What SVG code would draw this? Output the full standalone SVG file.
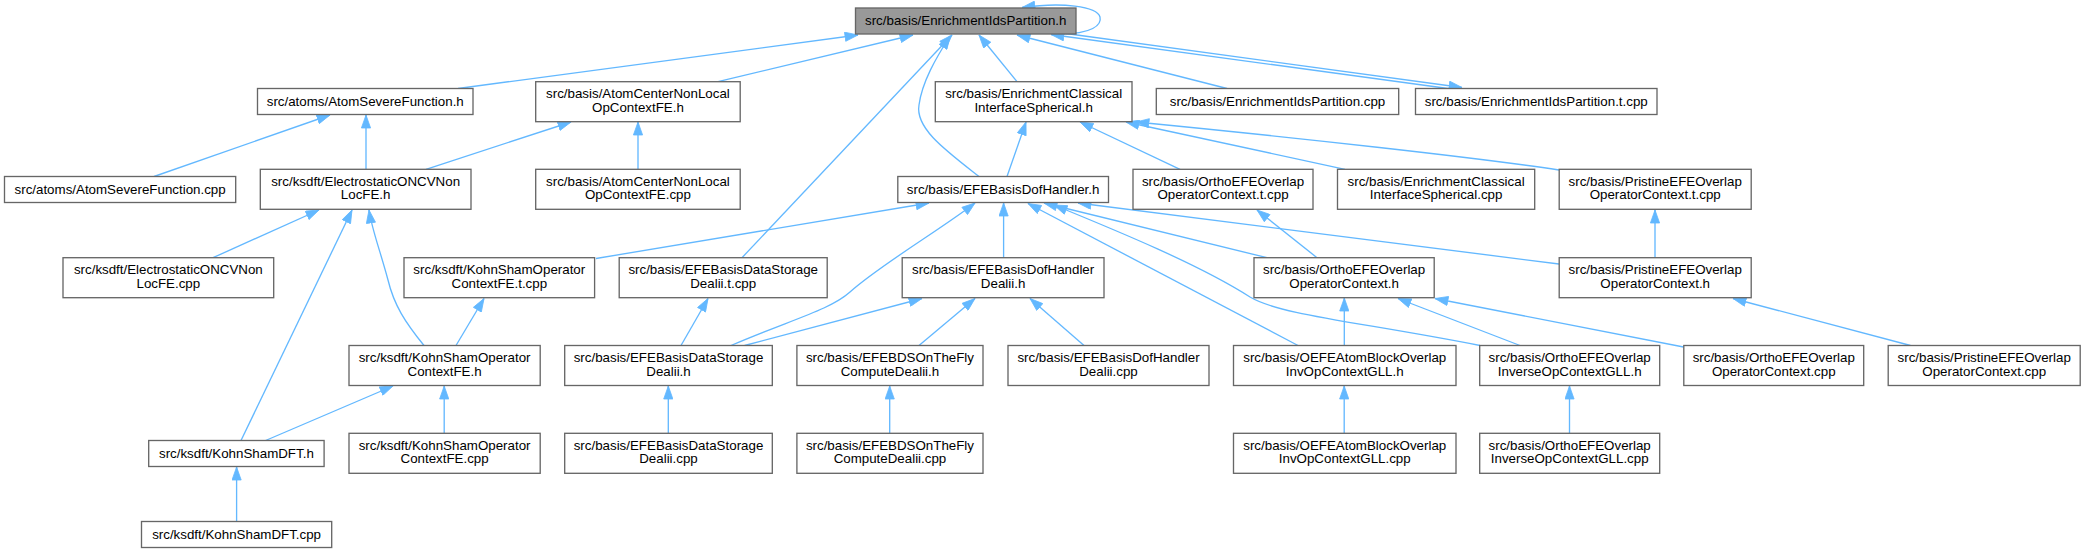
<svg xmlns="http://www.w3.org/2000/svg" width="2086" height="552" viewBox="0 0 2086 552">
<defs>
<marker id="ah" markerUnits="userSpaceOnUse" markerWidth="14" markerHeight="10" viewBox="0 0 13 10" refX="13" refY="5" orient="auto">
<path d="M0,0.4 L13,5 L0,9.6 z" fill="#63b8ff" stroke="#63b8ff" stroke-width="0.8"/>
</marker>
<style>
.n rect{fill:#fff;stroke:#666;stroke-width:1.33}
.n.root rect{fill:#999}
.n text{font-family:"Liberation Sans",Arial,sans-serif;font-size:13.33px;fill:#000;text-anchor:middle}
.e path{fill:none;stroke:#63b8ff;stroke-width:1.33;marker-end:url(#ah)}
</style>
</defs>
<rect width="2086" height="552" fill="#fff"/>
<g class="e" id="edges">
<path d="M458,88.5 L858,35"/>
<path d="M718,81.7 L913,35"/>
<path d="M742,257.7 L952,35"/>
<path d="M979,176.5 C945,150 915,128 919,105 C922,82 936,58 950,36"/>
<path d="M1017,81.7 L979,35"/>
<path d="M1227,88.5 L1017,35"/>
<path d="M1448,88.5 L1051,34.5"/>
<path d="M1066,33.5 L1462,87.5"/>
<path d="M1060,34 C1092,34 1102,25 1100,17 C1097,6 1062,2 1022,7.5"/>
<path d="M154,176.5 L330,115"/>
<path d="M366,169.3 L366,115"/>
<path d="M426,169.3 L571,122"/>
<path d="M638,169.3 L638,122"/>
<path d="M1007,176.5 L1026,122"/>
<path d="M1180,169.3 L1080,122"/>
<path d="M1345,169.3 L1126,122"/>
<path d="M1559,170 C1480,158 1300,138 1136,122"/>
<path d="M213,257.7 L319,210"/>
<path d="M241,440.5 L352,210"/>
<path d="M424,345.5 C405,322 394,305 388,280 C380,250 372,230 369,210"/>
<path d="M596,258.5 L929,203"/>
<path d="M731,345.5 C790,320 830,310 850,292 C880,265 940,230 975,203"/>
<path d="M1003.6,257.7 L1003.6,203"/>
<path d="M1298,345.5 L1028,203.5"/>
<path d="M1267,257.7 L1044,203"/>
<path d="M1480,345.5 C1360,322 1280,315 1250,297 C1200,265 1120,232 1054,205"/>
<path d="M1559,264 L1078,203"/>
<path d="M1317,257.7 L1257,210"/>
<path d="M1655,257.7 L1655,210"/>
<path d="M456,345.5 L484,298.5"/>
<path d="M681,345.5 L708,298.5"/>
<path d="M744.6,345.5 L922,298.5"/>
<path d="M919,345.5 L975,298.5"/>
<path d="M1084,345.5 L1030,298.5"/>
<path d="M1344.3,345.5 L1344.3,298"/>
<path d="M1520,345.5 L1398,298.5"/>
<path d="M1683.5,347 L1435,298.5"/>
<path d="M1910.5,345.5 L1733,298.5"/>
<path d="M265.6,440.5 L393,386"/>
<path d="M444.2,433.3 L444.2,386"/>
<path d="M668.3,433.3 L668.3,386"/>
<path d="M889.7,433.3 L889.7,386"/>
<path d="M1344.2,433.3 L1344.2,386"/>
<path d="M1569.5,433.3 L1569.5,386"/>
<path d="M236.6,521.5 L236.6,467"/>
</g>
<g class="n root" id="n0"><rect x="855.5" y="8" width="220.5" height="26"/><text x="965.75" y="25">src/basis/EnrichmentIdsPartition.h</text></g>
<g class="n" id="n1"><rect x="257.5" y="88.5" width="215.5" height="26"/><text x="365.25" y="105.5">src/atoms/AtomSevereFunction.h</text></g>
<g class="n" id="n2"><rect x="535.7" y="81.7" width="204.5" height="40"/><text x="637.95" y="98.4">src/basis/AtomCenterNonLocal</text><text x="637.95" y="111.7">OpContextFE.h</text></g>
<g class="n" id="n3"><rect x="935.3" y="81.7" width="196.7" height="40"/><text x="1033.65" y="98.4">src/basis/EnrichmentClassical</text><text x="1033.65" y="111.7">InterfaceSpherical.h</text></g>
<g class="n" id="n4"><rect x="1156.3" y="88.5" width="242.4" height="26"/><text x="1277.5" y="105.5">src/basis/EnrichmentIdsPartition.cpp</text></g>
<g class="n" id="n5"><rect x="1415.5" y="88.5" width="241.5" height="26"/><text x="1536.25" y="105.5">src/basis/EnrichmentIdsPartition.t.cpp</text></g>
<g class="n" id="n6"><rect x="4.5" y="176.5" width="231.2" height="26"/><text x="120.1" y="193.5">src/atoms/AtomSevereFunction.cpp</text></g>
<g class="n" id="n7"><rect x="260.3" y="169.3" width="210.7" height="40"/><text x="365.65" y="186">src/ksdft/ElectrostaticONCVNon</text><text x="365.65" y="199.3">LocFE.h</text></g>
<g class="n" id="n8"><rect x="535.7" y="169.3" width="204.5" height="40"/><text x="637.95" y="186">src/basis/AtomCenterNonLocal</text><text x="637.95" y="199.3">OpContextFE.cpp</text></g>
<g class="n" id="n9"><rect x="897.8" y="176.5" width="210.7" height="26"/><text x="1003.15" y="193.5">src/basis/EFEBasisDofHandler.h</text></g>
<g class="n" id="n10"><rect x="1133" y="169.3" width="180" height="40"/><text x="1223" y="186">src/basis/OrthoEFEOverlap</text><text x="1223" y="199.3">OperatorContext.t.cpp</text></g>
<g class="n" id="n11"><rect x="1337.5" y="169.3" width="197.2" height="40"/><text x="1436.1" y="186">src/basis/EnrichmentClassical</text><text x="1436.1" y="199.3">InterfaceSpherical.cpp</text></g>
<g class="n" id="n12"><rect x="1559.2" y="169.3" width="192" height="40"/><text x="1655.2" y="186">src/basis/PristineEFEOverlap</text><text x="1655.2" y="199.3">OperatorContext.t.cpp</text></g>
<g class="n" id="n13"><rect x="63" y="257.7" width="210.7" height="40"/><text x="168.35" y="274.4">src/ksdft/ElectrostaticONCVNon</text><text x="168.35" y="287.7">LocFE.cpp</text></g>
<g class="n" id="n14"><rect x="404" y="257.7" width="190.6" height="40"/><text x="499.3" y="274.4">src/ksdft/KohnShamOperator</text><text x="499.3" y="287.7">ContextFE.t.cpp</text></g>
<g class="n" id="n15"><rect x="619.2" y="257.7" width="208" height="40"/><text x="723.2" y="274.4">src/basis/EFEBasisDataStorage</text><text x="723.2" y="287.7">Dealii.t.cpp</text></g>
<g class="n" id="n16"><rect x="902.2" y="257.7" width="201.8" height="40"/><text x="1003.1" y="274.4">src/basis/EFEBasisDofHandler</text><text x="1003.1" y="287.7">Dealii.h</text></g>
<g class="n" id="n17"><rect x="1254" y="257.7" width="180.2" height="40"/><text x="1344.1" y="274.4">src/basis/OrthoEFEOverlap</text><text x="1344.1" y="287.7">OperatorContext.h</text></g>
<g class="n" id="n18"><rect x="1559.2" y="257.7" width="192" height="40"/><text x="1655.2" y="274.4">src/basis/PristineEFEOverlap</text><text x="1655.2" y="287.7">OperatorContext.h</text></g>
<g class="n" id="n19"><rect x="349" y="345.5" width="191.2" height="40"/><text x="444.6" y="362.2">src/ksdft/KohnShamOperator</text><text x="444.6" y="375.5">ContextFE.h</text></g>
<g class="n" id="n20"><rect x="564.7" y="345.5" width="207.6" height="40"/><text x="668.5" y="362.2">src/basis/EFEBasisDataStorage</text><text x="668.5" y="375.5">Dealii.h</text></g>
<g class="n" id="n21"><rect x="796.9" y="345.5" width="186.1" height="40"/><text x="889.95" y="362.2">src/basis/EFEBDSOnTheFly</text><text x="889.95" y="375.5">ComputeDealii.h</text></g>
<g class="n" id="n22"><rect x="1008" y="345.5" width="201" height="40"/><text x="1108.5" y="362.2">src/basis/EFEBasisDofHandler</text><text x="1108.5" y="375.5">Dealii.cpp</text></g>
<g class="n" id="n23"><rect x="1233.5" y="345.5" width="222.5" height="40"/><text x="1344.75" y="362.2">src/basis/OEFEAtomBlockOverlap</text><text x="1344.75" y="375.5">InvOpContextGLL.h</text></g>
<g class="n" id="n24"><rect x="1479.7" y="345.5" width="180" height="40"/><text x="1569.7" y="362.2">src/basis/OrthoEFEOverlap</text><text x="1569.7" y="375.5">InverseOpContextGLL.h</text></g>
<g class="n" id="n25"><rect x="1683.8" y="345.5" width="179.9" height="40"/><text x="1773.75" y="362.2">src/basis/OrthoEFEOverlap</text><text x="1773.75" y="375.5">OperatorContext.cpp</text></g>
<g class="n" id="n26"><rect x="1888.2" y="345.5" width="192" height="40"/><text x="1984.2" y="362.2">src/basis/PristineEFEOverlap</text><text x="1984.2" y="375.5">OperatorContext.cpp</text></g>
<g class="n" id="n27"><rect x="148.7" y="440.5" width="175.4" height="26"/><text x="236.4" y="457.5">src/ksdft/KohnShamDFT.h</text></g>
<g class="n" id="n28"><rect x="349" y="433.3" width="191.2" height="40"/><text x="444.6" y="450">src/ksdft/KohnShamOperator</text><text x="444.6" y="463.3">ContextFE.cpp</text></g>
<g class="n" id="n29"><rect x="564.7" y="433.3" width="207.6" height="40"/><text x="668.5" y="450">src/basis/EFEBasisDataStorage</text><text x="668.5" y="463.3">Dealii.cpp</text></g>
<g class="n" id="n30"><rect x="796.9" y="433.3" width="186.1" height="40"/><text x="889.95" y="450">src/basis/EFEBDSOnTheFly</text><text x="889.95" y="463.3">ComputeDealii.cpp</text></g>
<g class="n" id="n31"><rect x="1233.5" y="433.3" width="222.5" height="40"/><text x="1344.75" y="450">src/basis/OEFEAtomBlockOverlap</text><text x="1344.75" y="463.3">InvOpContextGLL.cpp</text></g>
<g class="n" id="n32"><rect x="1479.7" y="433.3" width="180" height="40"/><text x="1569.7" y="450">src/basis/OrthoEFEOverlap</text><text x="1569.7" y="463.3">InverseOpContextGLL.cpp</text></g>
<g class="n" id="n33"><rect x="141.5" y="521.5" width="190.2" height="26"/><text x="236.6" y="538.5">src/ksdft/KohnShamDFT.cpp</text></g>
</svg>
